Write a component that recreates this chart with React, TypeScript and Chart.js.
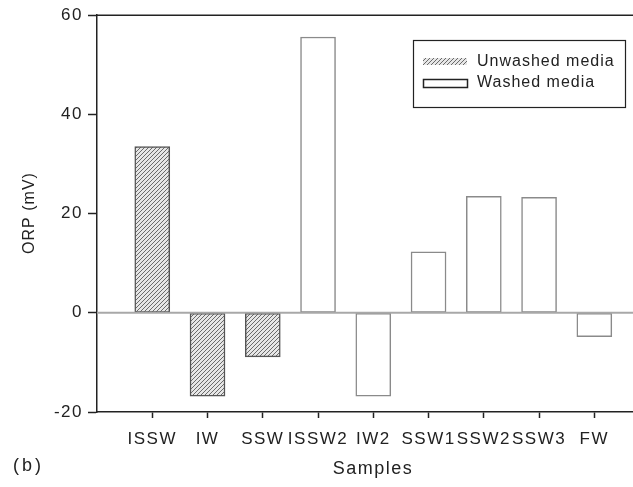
import React, { useEffect, useRef } from "react";
import { Chart, registerables } from "chart.js";

Chart.register(...registerables);

const categories = ["ISSW", "IW", "SSW", "ISSW2", "IW2", "SSW1", "SSW2", "SSW3", "FW"];
const unwashedSamples = ["ISSW", "IW", "SSW"];
const unwashedValues = [33.5, -16.8, -8.9];
const washedSamples = ["ISSW2", "IW2", "SSW1", "SSW2", "SSW3", "FW"];
const washedValues = [55.6, -16.8, 12.3, 23.5, 23.3, -4.8];
const yTickValues = [-20, 0, 20, 40, 60];
const seriesLabels = ["Unwashed media", "Washed media"];
const xTitle = "Samples";
const yTitle = "ORP (mV)";
const panelLabel = "(b)";

const FONT_FAMILY = "'Liberation Sans', Arial, Helvetica, sans-serif";
const TEXT_COLOR = "#222";

function makeHatch(ctx: CanvasRenderingContext2D): CanvasPattern | string {
  const c = document.createElement("canvas");
  c.width = 4;
  c.height = 4;
  const p = c.getContext("2d");
  if (!p) return "#999";
  p.fillStyle = "#e6e6e6";
  p.fillRect(0, 0, 4, 4);
  p.strokeStyle = "#6a6a6a";
  p.lineWidth = 1;
  p.beginPath();
  p.moveTo(-1, 5);
  p.lineTo(5, -1);
  p.moveTo(-3, 3);
  p.lineTo(3, -3);
  p.moveTo(1, 7);
  p.lineTo(7, 1);
  p.stroke();
  return ctx.createPattern(c, "repeat") || "#999";
}

export default function App() {
  const ref = useRef<HTMLCanvasElement | null>(null);

  useEffect(() => {
    const canvas = ref.current;
    if (!canvas) return;
    const ctx = canvas.getContext("2d");
    if (!ctx) return;
    const hatch = makeHatch(ctx);

    const toPoints = (names: string[], vals: number[]) =>
      names.map((n, i) => ({ x: categories.indexOf(n) + 1, y: vals[i] }));

    const decor = {
      id: "decor",
      beforeDraw(chart: any) {
        (chart.ctx as any).letterSpacing = "1.5px";
      },
      afterDatasetsDraw(chart: any) {
        const c = chart.ctx as CanvasRenderingContext2D;
        const { left, right, top } = chart.chartArea;
        const y0 = chart.scales.y.getPixelForValue(0);
        c.save();
        c.strokeStyle = "#a8a8a8";
        c.lineWidth = 2;
        c.beginPath();
        c.moveTo(left, y0);
        c.lineTo(right, y0);
        c.stroke();
        c.strokeStyle = "#222";
        c.lineWidth = 1.5;
        c.beginPath();
        c.moveTo(left, top);
        c.lineTo(right, top);
        c.stroke();
        c.restore();
      },
      afterDraw(chart: any) {
        const c = chart.ctx as CanvasRenderingContext2D;
        c.save();
        (c as any).letterSpacing = "1px";
        c.textBaseline = "middle";
        // legend
        c.fillStyle = "#fff";
        c.fillRect(413, 40, 213, 68);
        c.strokeStyle = "#222";
        c.lineWidth = 1.2;
        c.strokeRect(413.5, 40.5, 212, 67);
        c.fillStyle = hatch as any;
        c.fillRect(423, 58, 44, 7);
        c.strokeStyle = "#222";
        c.lineWidth = 1.5;
        c.strokeRect(423.5, 79.5, 44, 8);
        c.fillStyle = TEXT_COLOR;
        c.font = `16px ${FONT_FAMILY}`;
        c.textAlign = "left";
        c.fillText(seriesLabels[0], 477, 62);
        c.fillText(seriesLabels[1], 477, 83);
        // titles
        (c as any).letterSpacing = "1.5px";
        c.font = `18px ${FONT_FAMILY}`;
        c.textAlign = "center";
        c.fillText(xTitle, 373, 469);
        (c as any).letterSpacing = "3px";
        c.textAlign = "left";
        c.fillText(panelLabel, 13, 466);
        (c as any).letterSpacing = "1px";
        c.font = `16px ${FONT_FAMILY}`;
        c.translate(30, 213);
        c.rotate(-Math.PI / 2);
        c.textAlign = "center";
        c.fillText(yTitle, 0, 0);
        c.restore();
      },
    };

    const font = { family: FONT_FAMILY, size: 17 };

    const chart = new Chart(ctx, {
      type: "bar",
      data: {
        datasets: [
          {
            label: seriesLabels[0],
            data: toPoints(unwashedSamples, unwashedValues) as any,
            backgroundColor: hatch as any,
            borderColor: "#555",
            borderWidth: 1.5,
            borderSkipped: false,
            barThickness: 35,
            grouped: false,
          },
          {
            label: seriesLabels[1],
            data: toPoints(washedSamples, washedValues) as any,
            backgroundColor: "#ffffff",
            borderColor: "#8a8a8a",
            borderWidth: 1.5,
            borderSkipped: false,
            barThickness: 35,
            grouped: false,
          },
        ],
      },
      options: {
        responsive: false,
        animation: false,
        layout: { padding: { top: 15, left: 0, right: 0, bottom: 0 } },
        plugins: { legend: { display: false }, tooltip: { enabled: false } },
        scales: {
          x: {
            type: "linear",
            offset: false,
            min: 0,
            max: 9.7,
            afterBuildTicks: (s: any) => {
              s.ticks = categories.map((_, i) => ({ value: i + 1 }));
            },
            afterFit: (s: any) => {
              s.height = 75;
            },
            ticks: {
              callback: (v: any) => categories[Number(v) - 1] ?? "",
              font,
              color: TEXT_COLOR,
              padding: 11,
              maxRotation: 0,
              autoSkip: false,
            },
            grid: { drawOnChartArea: false, offset: false, tickLength: 6, color: "#222", tickWidth: 1.5 },
            border: { color: "#222", width: 1.5 },
          },
          y: {
            min: -20,
            max: 60,
            afterBuildTicks: (s: any) => {
              s.ticks = yTickValues.map((v) => ({ value: v }));
            },
            afterFit: (s: any) => {
              s.width = 97;
            },
            ticks: { font, color: TEXT_COLOR, padding: 5 },
            grid: { drawOnChartArea: false, tickLength: 9, color: "#222", tickWidth: 1.5 },
            border: { color: "#222", width: 1.5 },
          },
        },
      } as any,
      plugins: [decor],
    });
    return () => chart.destroy();
  }, []);

  return (
    <div style={{ position: "fixed", left: 0, top: 0, width: 633, height: 487, background: "#fff" }}>
      <canvas ref={ref} width={633} height={487} style={{ width: 633, height: 487, display: "block" }} />
    </div>
  );
}
